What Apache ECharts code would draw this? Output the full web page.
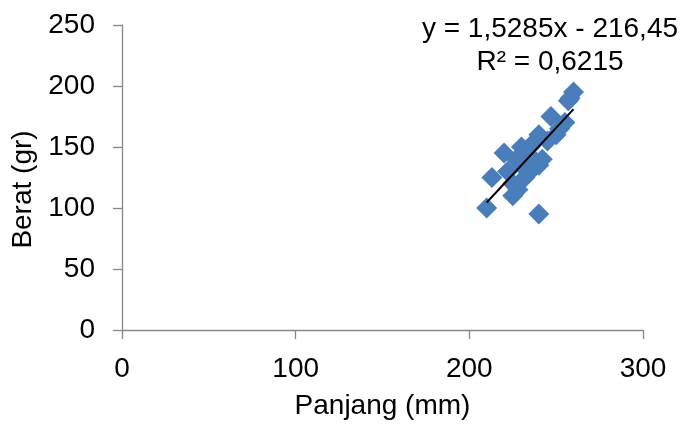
<!DOCTYPE html>
<html>
<head>
<meta charset="utf-8">
<script src="https://cdn.jsdelivr.net/npm/echarts@6/dist/echarts.min.js"></script>
<style>html,body{margin:0;padding:0;background:#fff}#c{width:684px;height:425px}</style>
</head>
<body>
<div id="c"></div>
<script>
var panjang = [210, 213, 220, 222, 225, 225, 227, 228, 230, 230, 232, 233, 235, 235, 237, 238, 240, 240, 240, 242, 245, 247, 250, 252, 255, 257, 258, 260];
var berat   = [100, 125, 145, 130, 110, 120, 140, 115, 150, 135, 125, 145, 130, 150, 140, 155, 160, 135,  95, 140, 155, 175, 160, 165, 170, 188, 190, 195];
var trendX = [210, 260];
var trendY = [104.5, 181.0];
var xTicks = [0, 100, 200, 300];
var yTicks = [0, 50, 100, 150, 200, 250];
var eqText = 'y = 1,5285x - 216,45';
var r2Text = 'R² = 0,6215';

var pts = panjang.map(function(x, i){ return [x, berat[i]]; });
var tline = trendX.map(function(x, i){ return [x, trendY[i]]; });
var font = 'Liberation Sans, Arial, sans-serif';
var FS = 28;
var chart = echarts.init(document.getElementById('c'), null, {renderer:'canvas'});
chart.setOption({
  animation: false,
  backgroundColor: '#fff',
  grid: {left: 122, right: 41, top: 25, bottom: 91},
  title: {
    text: eqText + '\n' + r2Text,
    left: 545, top: 8, textAlign: 'center',
    textStyle: {fontFamily: font, fontSize: FS, fontWeight: 'normal', color: '#000', lineHeight: 33, align: 'center'}
  },
  xAxis: {
    type: 'value', min: xTicks[0], max: xTicks[xTicks.length-1], interval: 100,
    name: 'Panjang (mm)', nameLocation: 'middle', nameGap: 62,
    nameTextStyle: {fontFamily: font, fontSize: FS, color: '#000'},
    axisLine: {show: true, lineStyle: {color: '#868686', width: 1.3}},
    axisTick: {show: true, length: 9, lineStyle: {color: '#868686', width: 1.3}},
    axisLabel: {fontFamily: font, fontSize: FS, color: '#000', margin: 25},
    splitLine: {show: false}
  },
  yAxis: {
    type: 'value', min: yTicks[0], max: yTicks[yTicks.length-1], interval: 50,
    name: 'Berat (gr)', nameLocation: 'middle', nameGap: 84, nameRotate: 90,
    nameTextStyle: {fontFamily: font, fontSize: FS, color: '#000', padding: [0, 24, 0, 0]},
    axisLine: {show: true, lineStyle: {color: '#868686', width: 1.3}},
    axisTick: {show: true, length: 9, lineStyle: {color: '#868686', width: 1.3}},
    axisLabel: {fontFamily: font, fontSize: FS, color: '#000', margin: 27},
    splitLine: {show: false}
  },
  series: [
    {type: 'scatter', data: pts, symbol: 'diamond', symbolSize: 21,
     itemStyle: {color: '#4a7ebb', opacity: 1}, z: 2},
    {type: 'line', data: tline, symbol: 'none', z: 3,
     lineStyle: {color: '#000', width: 2}}
  ]
});
</script>
</body>
</html>
